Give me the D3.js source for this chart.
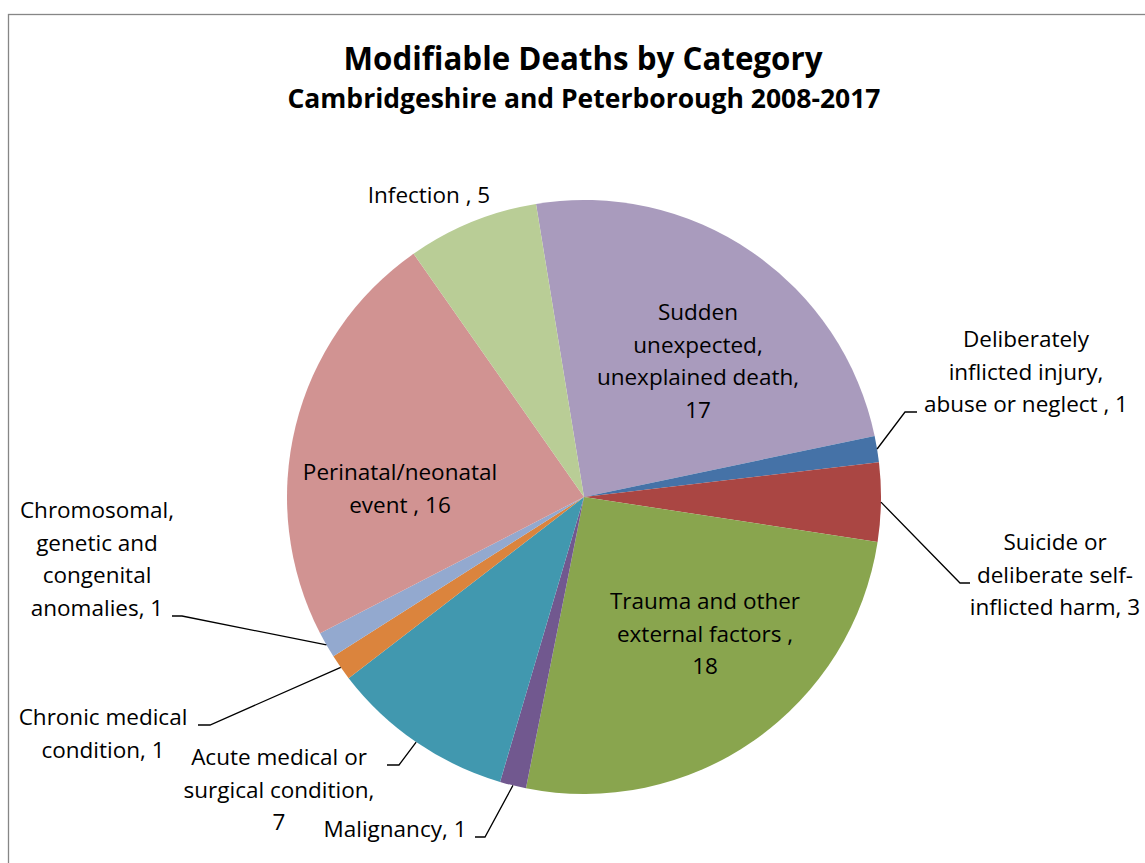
<!DOCTYPE html>
<html>
<head>
<meta charset="utf-8">
<script src="https://cdn.jsdelivr.net/npm/d3@7"></script>
<style>
  html, body { margin: 0; padding: 0; background: #fff; }
  svg { display: block; }
  text { font-family: "Open Sans", Lato, sans-serif; fill: #000; }
</style>
</head>
<body>
<svg id="chart"></svg>
<script>
// data, in clockwise order from the first slice
const categories = [
  'Sudden unexpected, unexplained death',
  'Deliberately inflicted injury, abuse or neglect ',
  'Suicide or deliberate self-inflicted harm',
  'Trauma and other external factors ',
  'Malignancy',
  'Acute medical or surgical condition',
  'Chronic medical condition',
  'Chromosomal, genetic and congenital anomalies',
  'Perinatal/neonatal event ',
  'Infection '
];
const values = [17, 1, 3, 18, 1, 7, 1, 1, 16, 5];
const colors = ['#a99bbd', '#4572a7', '#aa4643', '#89a54e', '#71588f',
                '#4198af', '#db843d', '#93a9cf', '#d19392', '#b9cd96'];

const title = 'Modifiable Deaths by Category';
const subtitle = 'Cambridgeshire and Peterborough 2008-2017';

// label layout: words per line, centre x, first baseline, leader elbow/end
const labelLayout = [
  { words: [1, 1, 2, 1], x: 698, y: 320 },
  { words: [1, 2, 5], x: 1026, y: 347, elbow: [905, 412], end: [917, 412] },
  { words: [2, 2, 3], x: 1055, y: 550, elbow: [960, 583], end: [970, 583] },
  { words: [3, 3, 1], x: 705, y: 609 },
  { words: [2], x: 395, y: 837, elbow: [485, 837], end: [475, 837] },
  { words: [3, 2, 1], x: 279, y: 765, elbow: [399, 765], end: [387, 765] },
  { words: [2, 2], x: 103, y: 725, elbow: [210, 725], end: [198, 725] },
  { words: [1, 2, 1, 2], x: 97, y: 518, elbow: [182, 616], end: [172, 616] },
  { words: [1, 3], x: 400, y: 480 },
  { words: [3], x: 429, y: 203 }
];

const W = 1145, H = 863;
const cx = 584, cy = 497, R = 297;
const startDeg = -9.3;
const lineH = 32.5;

const svg = d3.select('#chart').attr('width', W).attr('height', H);

// chart area border
svg.append('rect')
  .attr('x', 8.5).attr('y', 14.5)
  .attr('width', 1300).attr('height', 1000)
  .style('fill', 'none')
  .style('stroke', '#868686')
  .style('stroke-width', 1.3);

svg.append('text')
  .attr('x', 583).attr('y', 70)
  .attr('text-anchor', 'middle')
  .style('font-weight', 'bold').style('font-size', '31.3px')
  .text(title);

svg.append('text')
  .attr('x', 584).attr('y', 108)
  .attr('text-anchor', 'middle')
  .style('font-weight', 'bold').style('font-size', '26.5px')
  .text(subtitle);

const pie = d3.pie()
  .sort(null)
  .value(d => d)
  .startAngle(startDeg * Math.PI / 180)
  .endAngle(startDeg * Math.PI / 180 + 2 * Math.PI);

const arcs = pie(values);
const arc = d3.arc().innerRadius(0).outerRadius(R);
const edge = d3.arc().innerRadius(R).outerRadius(R);

const g = svg.append('g').attr('transform', `translate(${cx},${cy})`);

g.selectAll('path.slice')
  .data(arcs)
  .join('path')
  .attr('class', 'slice')
  .attr('d', arc)
  .style('fill', (d, i) => colors[i]);

// leader lines
arcs.forEach((d, i) => {
  let lay = labelLayout[i];
  if (!lay.elbow)
    return;
  let p = edge.centroid(d);
  let pts = [[p[0] + cx, p[1] + cy], lay.elbow, lay.end];
  svg.append('path')
    .attr('d', d3.line()(pts))
    .style('fill', 'none')
    .style('stroke', '#000')
    .style('stroke-width', 1.3);
});

// split a label into tokens; a hyphenated word can break after the hyphen
function tokens(s) {
  let out = [];
  s.split(' ').filter(w => w.length).forEach(w => {
    let parts = w.split(/(?<=-)/);
    parts.forEach(p => out.push(p));
  });
  return out;
}

function joinTokens(ts) {
  let s = '';
  ts.forEach((t, k) => {
    if (k > 0 && !ts[k - 1].endsWith('-'))
      s += ' ';
    s += t;
  });
  return s;
}

arcs.forEach((d, i) => {
  let lay = labelLayout[i];
  let ts = tokens(categories[i] + ', ' + values[i]);
  let lines = [];
  let k = 0;
  lay.words.forEach(n => {
    lines.push(joinTokens(ts.slice(k, k + n)));
    k += n;
  });

  let t = svg.append('text')
    .attr('text-anchor', 'middle')
    .style('font-size', '22.5px');
  lines.forEach((ln, j) => {
    t.append('tspan')
      .attr('x', lay.x)
      .attr('y', lay.y + j * lineH)
      .text(ln);
  });
});
</script>
</body>
</html>
